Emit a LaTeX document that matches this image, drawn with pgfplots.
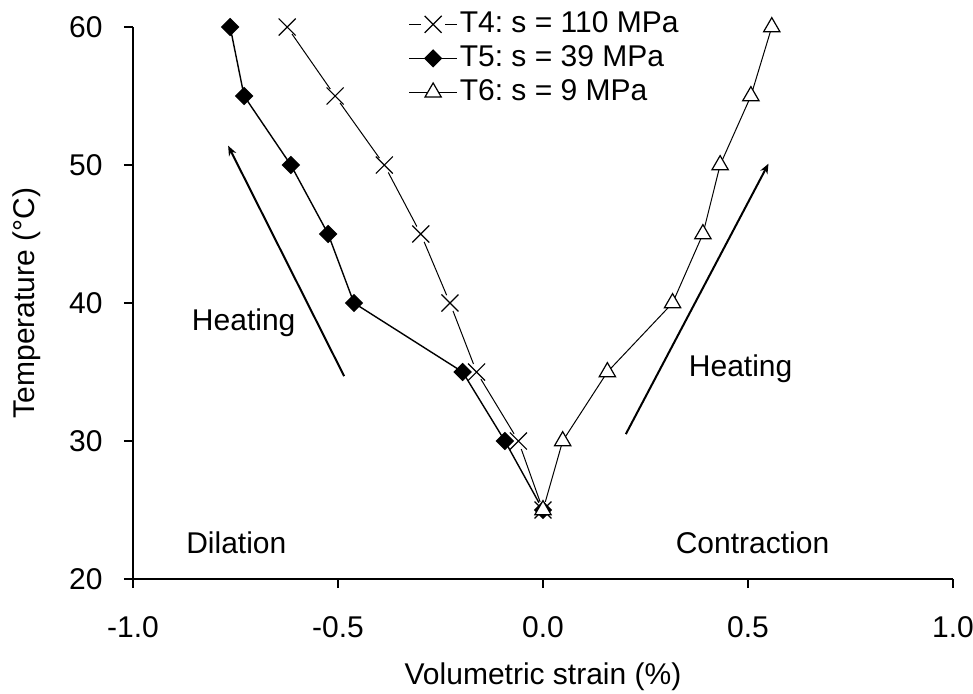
\documentclass[border=0pt]{standalone}
\usepackage{fontspec}
\setmainfont{Liberation Sans}
\usepackage{pgfplots}
\pgfplotsset{compat=1.18}
\usetikzlibrary{arrows.meta}
\begin{document}
\frenchspacing
\fontsize{15}{18}\selectfont
\begin{tikzpicture}
\begin{axis}[
 name=ax,
 scale only axis,
 width=410pt, height=276pt,
 xmin=-1, xmax=1, ymin=20, ymax=60,
 axis x line*=bottom, axis y line*=left,
 axis line style={line width=0.6pt, -},
 tick align=outside,
 major tick length=4.5pt,
 tick style={line width=0.6pt, black},
 xtick={-1,-0.5,0,0.5,1},
 xticklabels={-1.0,-0.5,0.0,0.5,1.0},
 ytick={20,30,40,50,60},
 xticklabel style={yshift=-9pt},
 yticklabel style={xshift=-5.5pt},
 /pgf/number format/assume math mode=true,
 xlabel={Volumetric strain (\%)},
 ylabel={Temperature (°C)},
 every axis x label/.style={at={(rel axis cs:0.5,0)}, anchor=center, yshift=-49pt},
 every axis y label/.style={at={(rel axis cs:0,0.5)}, anchor=center, rotate=90, yshift=53pt},
 clip=false,
 legend style={at={(axis description cs:0.3354,1.034)}, anchor=north west, draw=none, fill=none, inner sep=0pt, row sep=1.3pt,
   nodes={inner sep=1pt, text height=10.7pt, text depth=3pt}},
 legend cell align=left,
 legend image code/.code={\draw[mark repeat=2,mark phase=2] plot coordinates {(0pt,0pt) (12pt,0pt) (24pt,0pt)};},
]
% T4: line, white gaps, crosses
\addplot[black, line width=0.5pt, no marks, forget plot] coordinates {
(-0.624,60) (-0.507,55) (-0.387,50) (-0.298,45) (-0.227,40) (-0.162,35) (-0.060,30) (0.0,25)};
\addplot[white, only marks, mark=*, mark size=4pt, mark options={fill=white, draw=white, line width=0.4pt}, forget plot] coordinates {
(-0.624,60) (-0.507,55) (-0.387,50) (-0.298,45) (-0.227,40) (-0.162,35) (-0.060,30) (0.0,25)};
\addplot[black, only marks, mark=x, mark size=6pt, mark options={line width=0.6pt},
  legend image code/.code={\draw[line width=0.5pt] (0pt,0pt)--(6pt,0pt); \draw[line width=0.5pt] (18pt,0pt)--(24pt,0pt); \draw[line width=0.6pt] plot[mark=x, mark size=6pt] coordinates {(12pt,0pt)};}] coordinates {
(-0.624,60) (-0.507,55) (-0.387,50) (-0.298,45) (-0.227,40) (-0.162,35) (-0.060,30) (0.0,25)};
\addlegendentry{T4: s = 110 MPa}
\addplot[black, line width=0.7pt, mark=square*, mark size=2.9pt, mark options={fill=black, rotate=45}] coordinates {
(-0.763,60) (-0.729,55) (-0.615,50) (-0.524,45) (-0.461,40) (-0.196,35) (-0.093,30) (0.0,25)};
\addlegendentry{T5: s = 39 MPa}
\addplot[black, line width=0.5pt, mark=triangle*, mark size=4.7pt, mark options={fill=white, line width=0.6pt}] coordinates {
(0.0,25) (0.048,30) (0.157,35) (0.316,40) (0.390,45) (0.432,50) (0.507,55) (0.558,60)};
\addlegendentry{T6: s = 9 MPa}
\draw[line width=1pt, -{Stealth[length=5pt,width=4pt]}] (axis cs:-0.485,34.7) -- (axis cs:-0.768,51.4);
\draw[line width=1pt, -{Stealth[length=5pt,width=4pt]}] (axis cs:0.202,30.5) -- (axis cs:0.550,50.1);
\node at (axis cs:-0.730,38.57) {Heating};
\node at (axis cs:0.482,35.25) {Heating};
\node at (axis cs:-0.748,22.65) {Dilation};
\node at (axis cs:0.511,22.65) {Contraction};
\end{axis}
\pgfresetboundingbox
\path (ax.south west) ++(-66.5pt,-57pt) coordinate (bl);
\path (bl) rectangle ++(486.5pt,346.5pt);
\end{tikzpicture}
\end{document}
